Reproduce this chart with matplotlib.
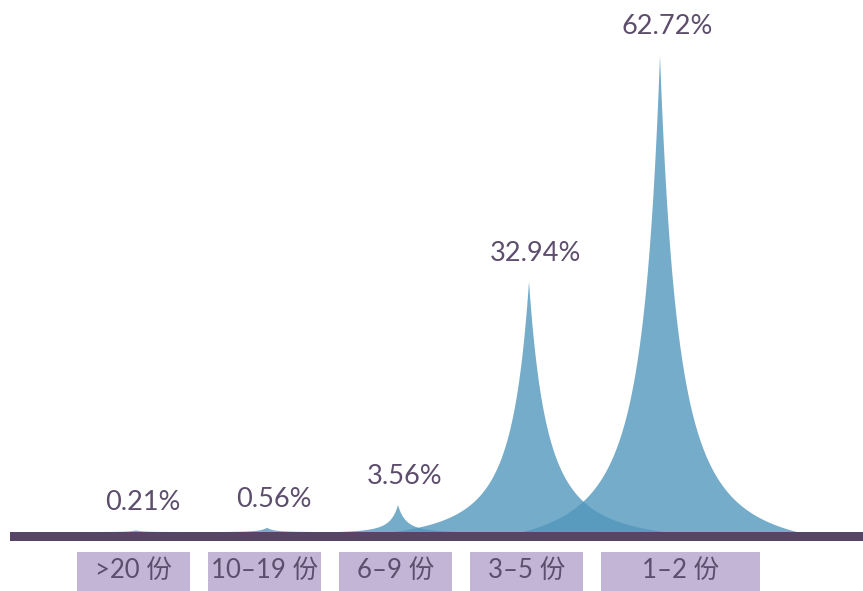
import numpy as np
import matplotlib.pyplot as plt
from matplotlib.patches import Rectangle

# dados
categorias = ['>20 份', '10–19 份', '6–9 份', '3–5 份', '1–2 份']
valores = [0.21, 0.56, 3.56, 32.94, 62.72]
rotulos = ['0.21%', '0.56%', '3.56%', '32.94%', '62.72%']

# estilo (largura do pico, em unidades de categoria)
meia_largura = np.array([45, 50, 60, 135, 137]) / 131.0
larg_caixa = [0.863, 0.863, 0.863, 0.863, 1.214]
azul = '#5297bc'
roxo = '#574566'
roxo_txt = '#5d4e6d'
lilas = '#c3b5d5'
fontes = ['Lato', 'Noto Sans CJK SC', 'DejaVu Sans']


def pico(x, c, h, w):
    '''cúspide: decai como (1+|d|/s)^-2 e zera em |d| = w'''
    s = 0.27*w
    d = np.abs(x - c)
    piso = (1 + w/s)**-2
    y = ((1 + d/s)**-2 - piso)/(1 - piso)
    return h*np.clip(y, 0, None)


fig = plt.figure(figsize=(8.63, 5.91), dpi=100)
ax = fig.add_axes([0, 0, 1, 1])
ax.set_xlim(-136/131, (863-136)/131)
ax.set_ylim(-59/7.6, 532/7.6)
ax.axis('off')

x = np.linspace(-1.1, 5.6, 4000)
for i, v in enumerate(valores):
    ax.fill_between(x, 0, pico(x, i, v, meia_largura[i]), color=azul,
                    alpha=0.8, lw=0, zorder=2)
    ax.annotate(rotulos[i], (i, v), xytext=(5, 15), textcoords='offset points',
                ha='center', va='baseline', fontsize=19.5, color=roxo_txt,
                family=fontes)

# linha de base
ax.axhspan(-9/7.6, 0, xmin=10/863, xmax=1, color=roxo, lw=0, zorder=3)

# caixas das categorias
for i, cat in enumerate(categorias):
    esq = i - 0.45
    ax.add_patch(Rectangle((esq, -8), larg_caixa[i], 8 - 20/7.6,
                           color=lilas, lw=0, zorder=3))
    ax.text(esq + larg_caixa[i]/2, -5.0, cat, ha='center', va='center',
            fontsize=18.5, color=roxo_txt, family=fontes, zorder=4)

plt.savefig('out.png', dpi=100)
